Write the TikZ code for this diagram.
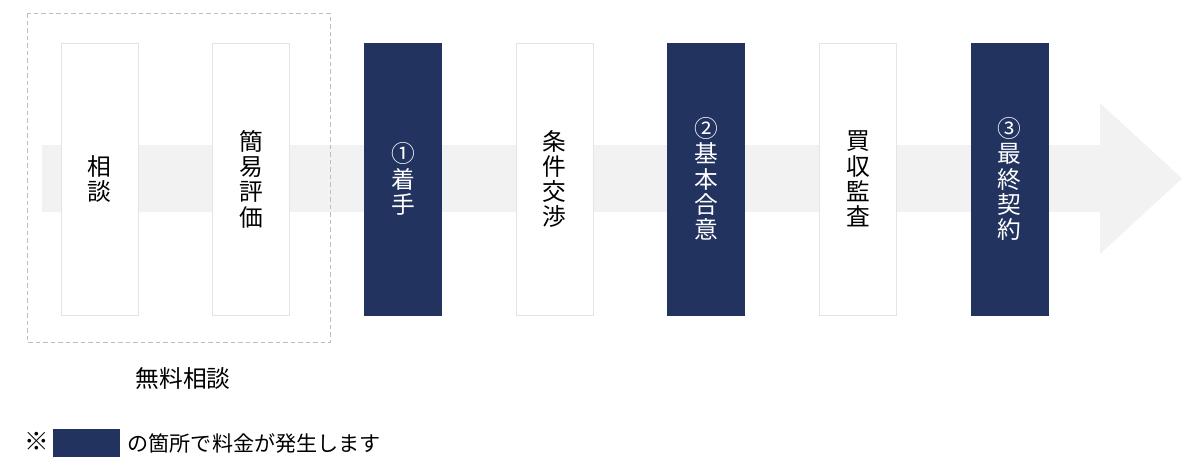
\documentclass[tikz,border=0pt]{standalone}
\usepackage{fontspec}
\setmainfont{Noto Sans CJK JP}
\usetikzlibrary{positioning}
\definecolor{navy}{HTML}{22335F}
\definecolor{band}{HTML}{F2F2F2}
\definecolor{boxline}{HTML}{E4E4E4}
\definecolor{dashline}{HTML}{BDBDBD}

\begin{document}
\begin{tikzpicture}[x=0.2mm,y=-0.2mm,node distance=14.8mm,
	step node/.style={rectangle,draw=boxline,fill=white,minimum width=15.4mm,
		minimum height=54.4mm,inner sep=0pt,align=center,
		font=\fontsize{13.5}{14.4}\selectfont},
	pay node/.style={step node,draw=navy,fill=navy,text=white}]
	
	\useasboundingbox (0,0) rectangle (1200,469);
	
	% background arrow
	\fill[band] (42,145) -- (1100,145) -- (1100,103) -- (1182,178.5)
		-- (1100,254) -- (1100,212) -- (42,212) -- cycle;
	
	\node[step node] (a) at (99.5,179) {相\\談};
	\node[step node] (b) [right=of a] {簡\\易\\評\\価};
	\node[pay node] (c) [right=of b] {①\\着\\手};
	\node[step node] (d) [right=of c] {条\\件\\交\\渉};
	\node[pay node] (e) [right=of d] {②\\基\\本\\合\\意};
	\node[step node] (f) [right=of e] {買\\収\\監\\査};
	\node[pay node] (g) [right=of f] {③\\最\\終\\契\\約};
	
	% free consultation
	\draw[dashline,dash pattern=on 0.9mm off 0.6mm] (27,13) rectangle (330,342);
	\node[font=\fontsize{13.5}{16}\selectfont] (free) at (183,378) {無料相談};
	
	% legend
	\node[inner sep=0pt,font=\fontsize{14}{16}\selectfont] (mark) at (37,441) {※};
	\node[fill=navy,minimum width=13.4mm,minimum height=5.6mm,inner sep=0pt] (key) at (86.5,443) {};
	\node[inner sep=0pt,anchor=west,font=\fontsize{12}{14}\selectfont] (note)
		[right=1.4mm of key] {の箇所で料金が発生します};
\end{tikzpicture}
\end{document}
